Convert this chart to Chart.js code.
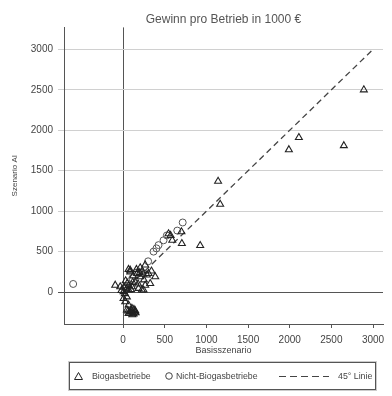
<!DOCTYPE html>
<html>
<head>
<meta charset="utf-8">
<script src="https://cdn.jsdelivr.net/npm/chart.js@4"></script>
<style>
body { margin: 0; background: #fff; font-family: "Liberation Sans", Arial, sans-serif; }
#wrap { position: relative; width: 392px; height: 396px; }
#legend { position: absolute; left: 69px; top: 362px; width: 305px; height: 26px; border: 1px solid #555; box-shadow: 0 0 0 1px #ccc; font-size: 8.8px; color: #444; }
#legend .it { position: absolute; top: 8px; line-height: 10px; white-space: nowrap; }
#legend svg { position: absolute; top: 9px; }
</style>
</head>
<body>
<div id="wrap">
  <canvas id="myChart" width="392" height="396"></canvas>
  <div id="legend">
    <svg style="left:4px" width="9" height="8"><polygon points="4.5,0.5 8.5,7.5 0.5,7.5" fill="none" stroke="#222" stroke-width="1"/></svg>
    <span class="it" style="left:22px">Biogasbetriebe</span>
    <svg style="left:95px" width="8" height="8"><circle cx="4" cy="4" r="3.3" fill="none" stroke="#444" stroke-width="1"/></svg>
    <span class="it" style="left:106px">Nicht-Biogasbetriebe</span>
    <svg style="left:209px;top:12px" width="50" height="3"><line x1="0" y1="1.5" x2="50" y2="1.5" stroke="#444" stroke-width="1.2" stroke-dasharray="7,4"/></svg>
    <span class="it" style="left:268px">45° Linie</span>
  </div>
</div>
<script>
// tick labels
var xTicks = [0, 500, 1000, 1500, 2000, 2500, 3000];
var yTicks = [0, 500, 1000, 1500, 2000, 2500, 3000];

// Biogasbetriebe (Basisszenario / Szenario AI)
var bioX = [2890, 2650, 1990, 2110, 1140, 1165, 705, 925, 700, 545, 590, 570,
    265, 85, 385, 305, 205, 145, 265, 225, 185, -95, -35, 5, 65, 105,
    45, 25, 5, 65, 45, 105, 145, 65, 125, 85, 205, 325, 285, 245,
    65, 30, 160, 230, -20, 90, 120, 180, 250, 340, 20, 50,
    80, 100, 120, 140, 60, 110, 130, 150, 170, 200, 240, 40, 10, 70, 95, 115];
var bioY = [2500, 1810, 1760, 1910, 1370, 1085, 600, 575, 745, 720, 640, 700,
    335, 270, 190, 230, 190, 125, 85, 25, 45, 85, 65, 5, 25, 65,
    -60, -120, -80, -160, -220, -200, -230, -265, -270, 250, 300, 105, 210, 25,
    280, 140, 280, 260, 20, -240, 200, 100, 150, 260, -20, 110,
    -250, -230, -260, -245, -235, -280, -215, -255, 230, 240, 220, 40, 60, 80, 30, 120];

// Nicht-Biogasbetriebe
var nbX = [-600, 715, 365, 425, 485, 525, 650, 300, 400, 160, 40, 110];
var nbY = [100, 860, 500, 580, 640, 700, 760, 380, 540, 240, 60, 170];

// 45 Grad Linie
var lineX = [0, 3000];
var lineY = [0, 3000];

function pts(xs, ys) {
    return xs.map(function(v, i) { return {x: v, y: ys[i]}; });
}

var ctx = document.getElementById('myChart').getContext('2d');
var chart = new Chart(ctx, {
    type: 'scatter',
    data: {
        datasets: [{
            label: '45° Linie',
            data: pts(lineX, lineY),
            showLine: true,
            borderColor: '#444',
            borderWidth: 1.3,
            borderDash: [6, 4],
            pointRadius: 0,
            order: 3
        },
        {
            label: 'Nicht-Biogasbetriebe',
            data: pts(nbX, nbY),
            pointStyle: 'circle',
            pointRadius: 3.5,
            borderColor: '#555',
            borderWidth: 1,
            backgroundColor: 'rgba(0,0,0,0)',
            order: 2
        },
        {
            label: 'Biogasbetriebe',
            data: pts(bioX, bioY),
            pointStyle: 'triangle',
            pointRadius: 4,
            borderColor: '#222',
            borderWidth: 1.1,
            backgroundColor: 'rgba(0,0,0,0)',
            order: 1
        }]
    },
    options: {
        responsive: false,
        animation: false,
        layout: { padding: { left: 10, right: 9, top: 0, bottom: 40 } },
        plugins: {
            legend: { display: false },
            tooltip: { enabled: false },
            title: {
                display: true,
                text: 'Gewinn pro Betrieb in 1000 €',
                fullSize: false,
                color: '#555',
                font: { family: 'Liberation Sans', size: 12, weight: 'normal' },
                padding: { top: 12, bottom: 1 }
            }
        },
        scales: {
            x: {
                type: 'linear',
                min: -710,
                max: 3120,
                afterBuildTicks: function(s) { s.ticks = xTicks.map(function(v) { return {value: v}; }); },
                afterFit: function(s) { s.height = 32; },
                grid: {
                    color: function(c) { return c.tick && c.tick.value === 0 ? '#555' : 'rgba(0,0,0,0)'; },
                    tickColor: '#555',
                    tickLength: 4
                },
                border: { color: '#555' },
                ticks: { padding: 6, color: '#444', maxRotation: 0, autoSkip: false,
                    callback: function(v) { return String(v); },
                    font: { family: 'Liberation Sans', size: 10 } },
                title: { display: true, text: 'Basisszenario', color: '#444', padding: 0,
                    font: { family: 'Liberation Sans', size: 9 } }
            },
            y: {
                min: -395,
                max: 3272,
                afterBuildTicks: function(s) { s.ticks = yTicks.map(function(v) { return {value: v}; }); },
                afterFit: function(s) { s.width = 54; },
                grid: {
                    color: function(c) { return c.tick && c.tick.value === 0 ? '#555' : '#d0d0d0'; },
                    tickLength: 6
                },
                border: { color: '#555' },
                ticks: { padding: 5, color: '#444', autoSkip: false,
                    callback: function(v) { return String(v); },
                    font: { family: 'Liberation Sans', size: 10 } },
                title: { display: true, text: 'Szenario AI', color: '#444', padding: 0,
                    font: { family: 'Liberation Sans', size: 8 } }
            }
        }
    }
});
</script>
</body>
</html>
